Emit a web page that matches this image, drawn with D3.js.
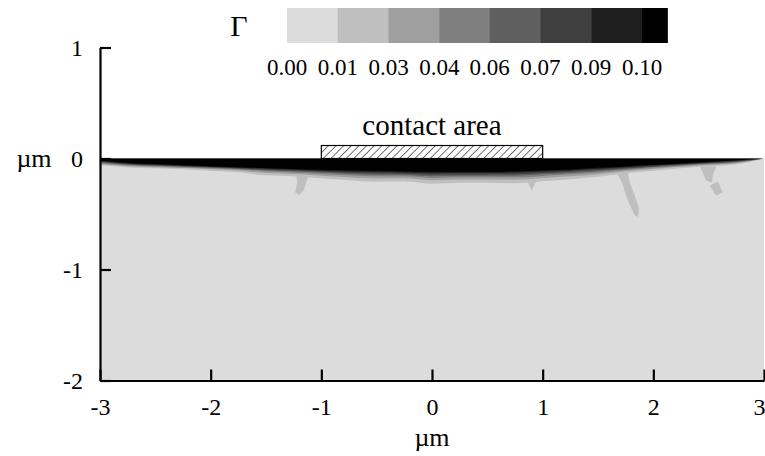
<!DOCTYPE html>
<html>
<head>
<meta charset="utf-8">
<script src="https://cdn.jsdelivr.net/npm/d3@7"></script>
<style>
  html, body { margin: 0; padding: 0; background: #fff; }
  svg { display: block; }
  text { font-family: "Liberation Serif", "Times New Roman", serif; fill: #000; }
</style>
</head>
<body>
<svg id="chart" width="765" height="456"></svg>
<script>
// Contour levels of Γ and their fill greys (last band: Γ ≥ 0.10)
const levels = [0.0, 0.0143, 0.0286, 0.0429, 0.0571, 0.0714, 0.0857, 0.1];
const levelColors = ["#dcdcdc", "#bfbfbf", "#9f9f9f", "#7f7f7f", "#5f5f5f", "#3f3f3f", "#1f1f1f", "#000000"];

// Tick values (µm)
const xTicks = [-3, -2, -1, 0, 1, 2, 3];
const yTicks = [-2, -1, 0, 1];

// Horizontal positions (µm) where the iso-lines are sampled
const xs = [-3, -2.75, -2.5, -2.25, -2, -1.75, -1.5, -1.25, -1, -0.75, -0.5, -0.25, 0,
            0.25, 0.5, 0.75, 1, 1.25, 1.5, 1.75, 2, 2.25, 2.5, 2.75, 3];

// Depth (µm, below the surface) of each iso-line Γ = level
const iso0143 = [-0.058, -0.080, -0.088, -0.097, -0.110, -0.124, -0.152, -0.160, -0.178, -0.196, -0.209, -0.205, -0.227,
                 -0.218, -0.218, -0.223, -0.205, -0.187, -0.165, -0.134, -0.110, -0.088, -0.070, -0.052, 0];
const iso0286 = [-0.051, -0.069, -0.078, -0.086, -0.097, -0.109, -0.130, -0.139, -0.155, -0.170, -0.181, -0.179, -0.196,
                 -0.190, -0.190, -0.192, -0.176, -0.161, -0.141, -0.115, -0.095, -0.075, -0.059, -0.043, 0];
const iso0429 = [-0.044, -0.062, -0.071, -0.080, -0.090, -0.100, -0.116, -0.125, -0.139, -0.152, -0.161, -0.161, -0.175,
                 -0.170, -0.170, -0.170, -0.157, -0.143, -0.125, -0.103, -0.085, -0.067, -0.051, -0.036, 0];
const iso0571 = [-0.036, -0.056, -0.066, -0.075, -0.084, -0.094, -0.108, -0.116, -0.127, -0.139, -0.147, -0.148, -0.159,
                 -0.156, -0.156, -0.155, -0.142, -0.130, -0.114, -0.094, -0.077, -0.060, -0.045, -0.031, 0];
const iso0714 = [-0.030, -0.051, -0.061, -0.070, -0.079, -0.088, -0.101, -0.109, -0.119, -0.128, -0.135, -0.137, -0.146,
                 -0.144, -0.144, -0.142, -0.130, -0.119, -0.104, -0.087, -0.071, -0.055, -0.041, -0.026, 0];
const iso0857 = [-0.024, -0.046, -0.056, -0.065, -0.074, -0.083, -0.093, -0.101, -0.110, -0.117, -0.122, -0.126, -0.132,
                 -0.131, -0.131, -0.127, -0.117, -0.107, -0.093, -0.078, -0.063, -0.049, -0.035, -0.020, 0];
const iso1000 = [-0.018, -0.040, -0.050, -0.060, -0.069, -0.078, -0.086, -0.094, -0.102, -0.107, -0.111, -0.116, -0.120,
                 -0.120, -0.120, -0.116, -0.107, -0.098, -0.084, -0.071, -0.057, -0.044, -0.030, -0.015, 0];

// Narrow Γ ≈ 0.014–0.029 tongues reaching down from the surface layer, [x, y] in µm
const tongueA = [[-1.228, -0.130], [-1.097, -0.130], [-1.132, -0.198], [-1.160, -0.288], [-1.198, -0.328], [-1.236, -0.306], [-1.218, -0.216]];
const tongueB = [[1.615, -0.100], [1.785, -0.100], [1.772, -0.149], [1.786, -0.209], [1.825, -0.314], [1.870, -0.449],
                 [1.862, -0.528], [1.830, -0.512], [1.768, -0.374], [1.714, -0.209], [1.662, -0.119]];
const tongueC = [[2.420, -0.070], [2.570, -0.070], [2.540, -0.144], [2.530, -0.216], [2.474, -0.198], [2.447, -0.126]];
const tongueC2 = [[2.510, -0.243], [2.583, -0.207], [2.628, -0.306], [2.565, -0.333]];
const tongueD = [[0.830, -0.170], [0.975, -0.170], [0.930, -0.225], [0.902, -0.288], [0.875, -0.234]];
const tongues = [tongueA, tongueB, tongueC, tongueC2, tongueD];

// Loaded contact region on the surface
const contactRange = [-1, 1];
const contactHeight = 0.117;

const svg = d3.select("#chart");

const x = d3.scaleLinear().domain([-3, 3]).range([100, 764]);
const y = d3.scaleLinear().domain([-2, 1]).range([380.5, 47.5]);

// Field below the surface
svg.append("rect")
  .attr("x", x(-3)).attr("y", y(0))
  .attr("width", x(3) - x(-3)).attr("height", y(-2) - y(0))
  .attr("fill", levelColors[0]);

svg.append("clipPath").attr("id", "field")
  .append("rect")
  .attr("x", x(-3)).attr("y", y(0))
  .attr("width", x(3) - x(-3)).attr("height", y(-2) - y(0));

const g = svg.append("g").attr("clip-path", "url(#field)");

// Tongues (first non-background band)
g.selectAll("path.tongue").data(tongues).join("path")
  .attr("class", "tongue")
  .attr("fill", levelColors[1])
  .attr("d", d => d3.line().x(p => x(p[0])).y(p => y(p[1])).curve(d3.curveLinearClosed)(d));

// Filled bands, deepest/lightest first
const isoLines = [iso0143, iso0286, iso0429, iso0571, iso0714, iso0857, iso1000];
const area = d3.area()
  .x(d => x(d[0]))
  .y0(y(0))
  .y1(d => y(d[1]))
  .curve(d3.curveMonotoneX);

g.selectAll("path.band").data(isoLines).join("path")
  .attr("class", "band")
  .attr("fill", (d, i) => levelColors[i + 1])
  .attr("d", d => area(xs.map((v, i) => [v, d[i]])));

// Hatched contact patch
const defs = svg.append("defs");
const pat = defs.append("pattern")
  .attr("id", "hatch")
  .attr("patternUnits", "userSpaceOnUse")
  .attr("width", 5.4).attr("height", 5.4)
  .attr("patternTransform", "rotate(45)");
pat.append("rect").attr("width", 5.4).attr("height", 5.4).attr("fill", "#fff");
pat.append("line")
  .attr("x1", 0).attr("y1", 0).attr("x2", 0).attr("y2", 5.4)
  .attr("stroke", "#000").attr("stroke-width", 1.1);

svg.append("rect")
  .attr("x", x(contactRange[0])).attr("y", y(contactHeight))
  .attr("width", x(contactRange[1]) - x(contactRange[0]))
  .attr("height", y(0) - y(contactHeight))
  .attr("fill", "url(#hatch)")
  .attr("stroke", "#000").attr("stroke-width", 1.2);

svg.append("text")
  .attr("x", x(0)).attr("y", 135)
  .attr("text-anchor", "middle")
  .attr("font-size", 29)
  .text("contact area");

// Axes with inward ticks
const xAxis = svg.append("g")
  .attr("transform", `translate(0,${y(-2)})`)
  .call(d3.axisBottom(x).tickValues(xTicks).tickFormat(d => String(d))
        .tickSizeInner(-11).tickSizeOuter(0).tickPadding(17));
const yAxis = svg.append("g")
  .attr("transform", `translate(${x(-3)},0)`)
  .call(d3.axisLeft(y).tickValues(yTicks).tickFormat(d => String(d))
        .tickSizeInner(-11).tickSizeOuter(0).tickPadding(17));

[xAxis, yAxis].forEach(a => {
  a.attr("font-family", null);
  a.select(".domain").attr("stroke", "#000").attr("stroke-width", 2.2);
  a.selectAll(".tick line").attr("stroke", "#000").attr("stroke-width", 2.2);
  a.selectAll(".tick text")
    .attr("font-size", 24)
    .attr("fill", "#000");
});
// last x label sits at the right border of the field
xAxis.selectAll(".tick text").filter(d => d === xTicks[xTicks.length - 1])
  .attr("text-anchor", "end").attr("dx", 1);

svg.append("text")
  .attr("x", x(0)).attr("y", 446)
  .attr("text-anchor", "middle")
  .attr("font-size", 26)
  .text("µm");
svg.append("text")
  .attr("x", 34).attr("y", y(0) + 8)
  .attr("text-anchor", "middle")
  .attr("font-size", 26)
  .text("µm");

// Legend
const lx = d3.scaleLinear().domain([0, 0.1]).range([287, 642]);
const legendEdges = levels.concat([0.1 + 0.1 / 14]);
svg.selectAll("rect.key").data(levelColors).join("rect")
  .attr("class", "key")
  .attr("x", (d, i) => lx(legendEdges[i]))
  .attr("y", 8)
  .attr("width", (d, i) => lx(legendEdges[i + 1]) - lx(legendEdges[i]) + 0.5)
  .attr("height", 35)
  .attr("fill", d => d);

svg.selectAll("text.keylabel").data(levels).join("text")
  .attr("class", "keylabel")
  .attr("x", d => lx(d))
  .attr("y", 75)
  .attr("text-anchor", "middle")
  .attr("font-size", 23)
  .text(d => d3.format(".2f")(d));

svg.append("text")
  .attr("x", 239).attr("y", 36)
  .attr("text-anchor", "middle")
  .attr("font-size", 30)
  .text("Γ");
</script>
</body>
</html>
